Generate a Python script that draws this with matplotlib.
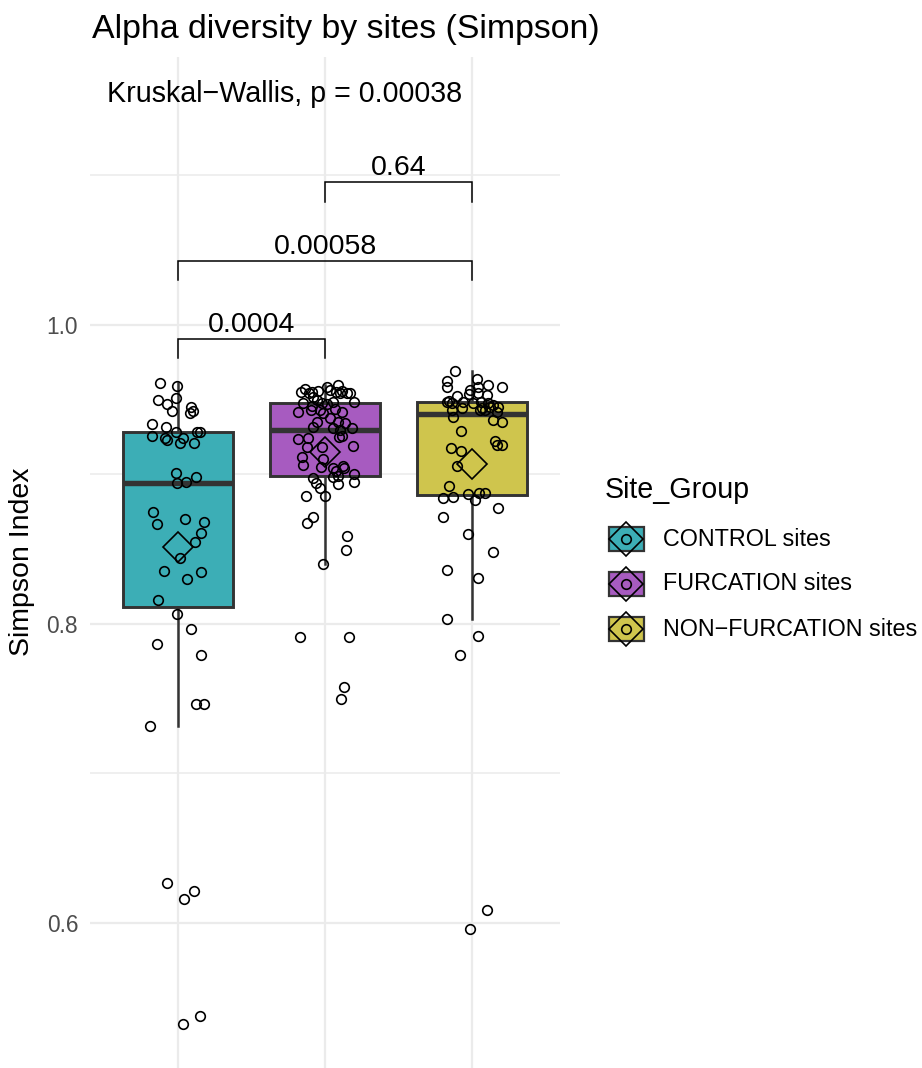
import numpy as np
import matplotlib
matplotlib.use("Agg")
import matplotlib.pyplot as plt
from matplotlib.patches import Rectangle

plt.rcParams["font.family"] = ["Liberation Sans", "DejaVu Sans"]

# ---- data -------------------------------------------------------------
groups = ["CONTROL sites", "FURCATION sites", "NON\u2212FURCATION sites"]
fills = ["#3CAEB6", "#A75BC0", "#CFC54D"]

control = [0.9614, 0.9594, 0.9514, 0.9498, 0.9469, 0.9425, 0.9454, 0.9425,
           0.9414, 0.9336, 0.9320, 0.9286, 0.9286, 0.9282, 0.9258, 0.9242,
           0.9231, 0.9242, 0.9213, 0.9213, 0.9012, 0.8985, 0.8945, 0.8947,
           0.8747, 0.8705, 0.8685, 0.8667, 0.8611, 0.8551, 0.8444, 0.8357,
           0.8348, 0.8301, 0.8161, 0.8067, 0.7964, 0.7864, 0.7795, 0.7465,
           0.7465, 0.7320, 0.6270, 0.6216, 0.6158, 0.5326, 0.5380]
control_jit = [-0.125, -0.011, -0.016, -0.134, -0.079, -0.045, 0.091, 0.102,
               0.079, -0.177, -0.084, -0.016, 0.147, 0.129, -0.175, -0.091,
               -0.075, 0.034, 0.016, 0.109, -0.014, 0.125, -0.007, 0.057,
               -0.170, 0.048, 0.175, -0.147, 0.154, 0.113, 0.011, -0.095,
               0.159, 0.061, -0.138, -0.007, 0.086, -0.147, 0.154, 0.120,
               0.177, -0.193, -0.079, 0.108, 0.039, 0.030, 0.152]

furcation = [0.9550, 0.9570, 0.9543, 0.9554, 0.9521, 0.9587, 0.9565, 0.9554,
             0.9599, 0.9543, 0.9561, 0.9543, 0.9487, 0.9498, 0.9480, 0.9487,
             0.9476, 0.9420, 0.9431, 0.9431, 0.9409, 0.9376, 0.9420, 0.9353,
             0.9347, 0.9353, 0.9320, 0.9309, 0.9298, 0.9309, 0.9258, 0.9237,
             0.9242, 0.9249, 0.9193, 0.9182, 0.9182, 0.9119, 0.9061, 0.9101,
             0.9048, 0.9041, 0.9026, 0.9057, 0.9041, 0.9001, 0.8985, 0.8990,
             0.8952, 0.8936, 0.8979, 0.8945, 0.8907, 0.8856, 0.8856, 0.8718,
             0.8673, 0.8591, 0.8495, 0.8401, 0.7911, 0.7915, 0.7576, 0.7498,
             0.9560, 0.9548, 0.9470, 0.9460, 0.9440]
furcation_jit = [-0.166, -0.136, -0.107, -0.091, -0.079, 0.011, 0.034, 0.075,
                 0.091, 0.102, 0.113, 0.170, 0.197, -0.057, -0.023, 0.057,
                 -0.147, -0.186, -0.098, -0.034, -0.016, 0.034, 0.113, 0.091,
                 0.136, -0.057, -0.079, 0.052, 0.102, 0.184, 0.113, -0.181,
                 -0.113, 0.098, 0.193, -0.120, -0.023, -0.159, -0.147, -0.016,
                 -0.029, 0.052, 0.075, 0.125, 0.129, 0.197, 0.057, 0.091,
                 0.197, 0.091, -0.079, -0.061, -0.034, 0.000, -0.132, -0.079,
                 -0.120, 0.152, 0.141, -0.014, -0.170, 0.163, 0.129, 0.109,
                 -0.045, 0.147, 0.011, -0.091, 0.068]

nonfurcation = [0.9692, 0.9628, 0.9587, 0.9639, 0.9587, 0.9565, 0.9599, 0.9587,
                0.9532, 0.9543, 0.9536, 0.9525, 0.9494, 0.9483, 0.9480, 0.9487,
                0.9476, 0.9487, 0.9480, 0.9465, 0.9454, 0.9454, 0.9443, 0.9443,
                0.9431, 0.9387, 0.9431, 0.9431, 0.9420, 0.9365, 0.9353, 0.9291,
                0.9224, 0.9197, 0.9197, 0.9175, 0.9159, 0.9057, 0.8925, 0.8845,
                0.8847, 0.8867, 0.8874, 0.8878, 0.8829, 0.8778, 0.8718, 0.8602,
                0.8482, 0.8359, 0.8310, 0.8033, 0.7920, 0.7791, 0.6085, 0.5960]
nonfurcation_jit = [-0.116, -0.168, -0.168, 0.036, 0.043, -0.014, 0.113, 0.202,
                    0.104, 0.039, -0.018, -0.104, -0.154, -0.059, -0.132, -0.172,
                    0.009, 0.059, 0.111, 0.145, 0.179, 0.122, 0.066, -0.070,
                    -0.138, -0.127, 0.054, 0.088, 0.168, 0.145, 0.202, -0.077,
                    0.156, 0.172, 0.202, -0.145, -0.077, -0.104, -0.154, -0.195,
                    -0.127, -0.027, 0.050, 0.088, 0.023, 0.181, -0.195, -0.027,
                    0.147, -0.172, 0.045, -0.166, 0.045, -0.082, 0.100, -0.014]

# pairwise comparisons: (group a, group b, bracket height, label)
comparisons = [(0, 1, 0.9906, "0.0004"),
               (0, 2, 1.0428, "0.00058"),
               (1, 2, 1.0955, "0.64")]
kruskal_label = "Kruskal\u2212Wallis, p = 0.00038"

# ---- figure -----------------------------------------------------------
W, H = 922, 1068
fig = plt.figure(figsize=(W / 100, H / 100), dpi=100)
ax = fig.add_axes([90 / W, 0, 470 / W, 1011 / H])

values = [np.array(control), np.array(furcation), np.array(nonfurcation)]
jitters = [control_jit, furcation_jit, nonfurcation_jit]
pos = np.arange(len(groups))

edge = "#333333"
bp = ax.boxplot(values, positions=pos, widths=0.75, patch_artist=True,
                showfliers=False, showcaps=False, whis=1.5,
                boxprops=dict(edgecolor=edge, linewidth=2.1),
                whiskerprops=dict(color=edge, linewidth=1.8),
                medianprops=dict(color=edge, linewidth=3.9, solid_capstyle="butt"),
                zorder=2)
for patch, c in zip(bp["boxes"], fills):
    patch.set_facecolor(c)

for i, (v, j) in enumerate(zip(values, jitters)):
    ax.plot(i + np.array(j), v, "o", ms=6.9, mfc="none", mec="black",
            mew=1.2, zorder=3)
    ax.plot(i, v.mean(), "D", ms=14.8, mfc="none", mec="black",
            mew=1.2, zorder=4)

# significance brackets
drop = 0.0130
for a, b, h, lab in comparisons:
    ax.plot([a, a, b, b], [h - drop, h, h, h - drop], color="black",
            lw=1.1, zorder=3, solid_joinstyle="miter")
    ax.text((a + b) / 2, h + 0.0048, lab, ha="center", va="baseline",
            fontsize=20.5)

ax.text(-0.483, 1.1492, kruskal_label, ha="left", va="baseline",
        fontsize=20.6)

# axes styling
ax.set_xlim(-0.6, 2.6)
ax.set_ylim(0.50301, 1.17926)
ax.set_xticks(pos)
ax.set_xticklabels([])
ax.set_yticks([0.6, 0.8, 1.0])
ax.set_yticklabels(["0.6", "0.8", "1.0"])
ax.set_yticks([0.7, 0.9, 1.1], minor=True)
ax.tick_params(axis="both", which="both", length=0)
ax.tick_params(axis="y", labelsize=16.4, labelcolor="#4D4D4D", pad=8.5)
ax.grid(True, which="major", color="#EBEBEB", lw=1.6)
ax.grid(True, which="minor", axis="y", color="#EBEBEB", lw=1.1)
ax.set_axisbelow(True)
for s in ax.spines.values():
    s.set_visible(False)

fig.text(92 / W, 1 - 38 / H, "Alpha diversity by sites (Simpson)",
         ha="left", va="baseline", fontsize=24.4)
fig.text(22 / W, 1 - 562 / H, "Simpson Index", rotation=90,
         ha="center", va="center", fontsize=20.5)

# legend
lax = fig.add_axes([0, 0, 1, 1], zorder=5)
lax.set_xlim(0, W)
lax.set_ylim(H, 0)
lax.axis("off")
lax.text(605, 498, "Site_Group", ha="left", va="baseline", fontsize=20.6)
rows = [539, 584, 629]
for name, c, yc in zip(groups, fills, rows):
    lax.add_patch(Rectangle((608.5, yc - 12), 35, 24, facecolor=c,
                            edgecolor=edge, lw=1.6))
    lax.plot(626, yc, "D", ms=17, mfc="none", mec="black", mew=1.2)
    lax.plot(626, yc, "o", ms=6.9, mfc="none", mec="black", mew=1.2)
    lax.text(663, yc, name, ha="left", va="center", fontsize=16.8)

fig.savefig("out.png", dpi=100)
